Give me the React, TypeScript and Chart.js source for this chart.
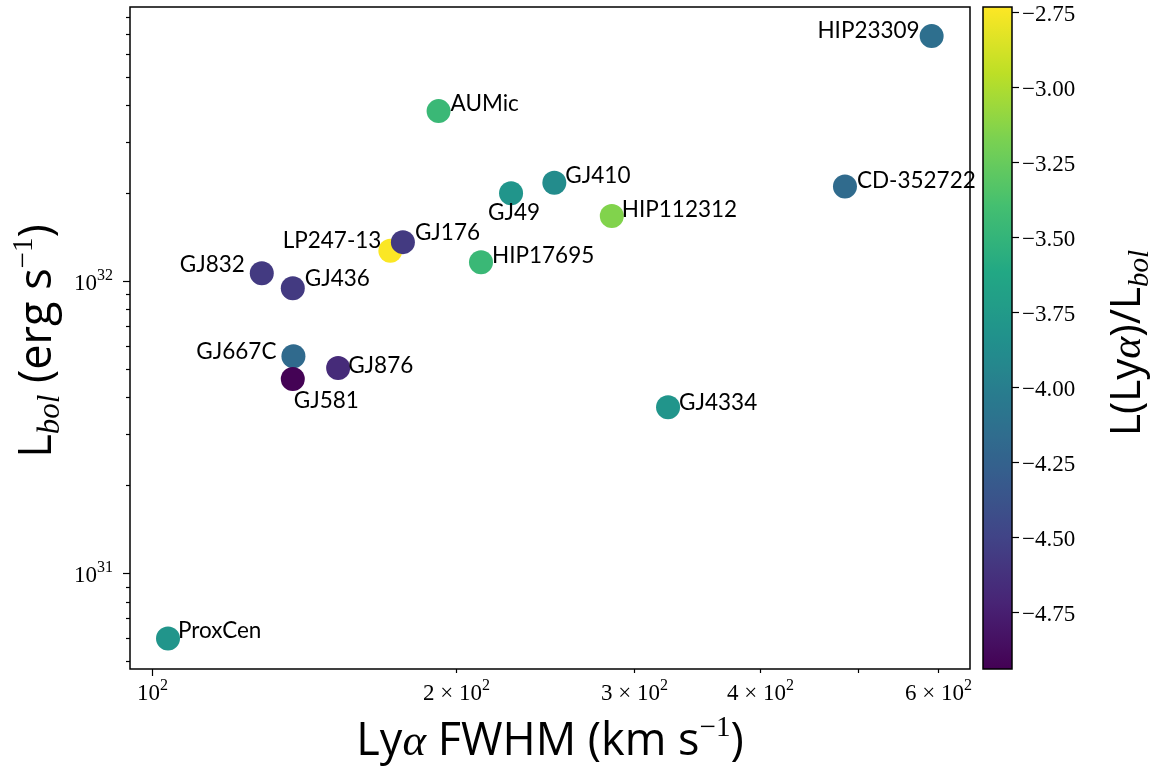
import React, { useEffect, useRef } from "react";
import { Chart, registerables } from "chart.js";

Chart.register(...registerables);

// ---------- data ----------
const starNames = [
  "HIP23309", "AUMic", "GJ410", "GJ49", "CD-352722", "HIP112312", "LP247-13", "GJ176",
  "HIP17695", "GJ832", "GJ436", "GJ667C", "GJ581", "GJ876", "GJ4334", "ProxCen",
];
const fwhm = [591, 192, 250, 226.5, 485, 285, 172, 177, 211.5, 128.3, 137.7, 137.9, 137.7, 152.7, 324, 103.6];
const lbol = [
  6.9e32, 3.82e32, 2.17e32, 2.0e32, 2.11e32, 1.67e32, 1.27e32, 1.36e32,
  1.16e32, 1.065e32, 9.46e31, 5.53e31, 4.62e31, 5.04e31, 3.7e31, 5.98e30,
];
const lyaRatio = [
  -4.14, -3.46, -3.88, -3.8, -4.17, -3.15, -2.74, -4.57,
  -3.46, -4.57, -4.57, -4.18, -4.93, -4.67, -3.8, -3.8,
];

const xTickValues = [100, 200, 300, 400, 500, 600];
const xTickLabels = ["10^2", "2 × 10^2", "3 × 10^2", "4 × 10^2", "", "6 × 10^2"];
const xMajorValues = [100];
const yMajorValues = [1e31, 1e32];
const yMajorLabels = ["10^31", "10^32"];
const yMinorValues = [
  5e30, 6e30, 7e30, 8e30, 9e30,
  2e31, 3e31, 4e31, 5e31, 6e31, 7e31, 8e31, 9e31,
  2e32, 3e32, 4e32, 5e32, 6e32, 7e32, 8e32,
];
const cTickValues = [-4.75, -4.5, -4.25, -4.0, -3.75, -3.5, -3.25, -3.0, -2.75];
const cTickLabels = ["−4.75", "−4.50", "−4.25", "−4.00", "−3.75", "−3.50", "−3.25", "−3.00", "−2.75"];

const xMin = 95;
const xMax = 645;
const yMin = 4.7e30;
const yMax = 8.68e32;
const cMin = -4.94;
const cMax = -2.733;

// label placement: [dx, dy(center), align]
const labelPlacement: [number, number, CanvasTextAlign][] = [
  [-12, -5, "right"], [12, -7, "left"], [11, -7, "left"], [3, 20, "center"],
  [12, -6, "left"], [10, -6, "left"], [-9, -10, "right"], [12, -9, "left"],
  [11, -7, "left"], [-17, -8, "right"], [12, -9, "left"], [-17, -5, "right"],
  [1, 22, "left"], [10, -2, "left"], [11, -5, "left"], [10, -8, "left"],
];

// ---------- helpers ----------
const viridisStops = [
  "#440154", "#482475", "#414487", "#355f8d", "#2a788e", "#21918c",
  "#22a884", "#44bf70", "#7ad151", "#bddf26", "#fde725",
];
function hexToRgb(h: string) {
  return [parseInt(h.slice(1, 3), 16), parseInt(h.slice(3, 5), 16), parseInt(h.slice(5, 7), 16)];
}
function viridis(t: number) {
  const tt = Math.max(0, Math.min(1, t)) * (viridisStops.length - 1);
  const i = Math.min(viridisStops.length - 2, Math.floor(tt));
  const f = tt - i;
  const a = hexToRgb(viridisStops[i]);
  const b = hexToRgb(viridisStops[i + 1]);
  const c = a.map((v, k) => Math.round(v + (b[k] - v) * f));
  return `rgb(${c[0]},${c[1]},${c[2]})`;
}

type Seg = { t: string; f: string; dy?: number };
function segWidth(ctx: CanvasRenderingContext2D, segs: Seg[]) {
  let w = 0;
  for (const s of segs) {
    ctx.font = s.f;
    w += ctx.measureText(s.t).width;
  }
  return w;
}
function drawSegs(ctx: CanvasRenderingContext2D, segs: Seg[], x: number, y: number, align: CanvasTextAlign) {
  const w = segWidth(ctx, segs);
  let cx = align === "left" ? x : align === "right" ? x - w : x - w / 2;
  ctx.textAlign = "left";
  ctx.textBaseline = "alphabetic";
  for (const s of segs) {
    ctx.font = s.f;
    ctx.fillText(s.t, cx, y + (s.dy || 0));
    cx += ctx.measureText(s.t).width;
  }
}
const SERIF = '"Liberation Serif", "DejaVu Serif", serif';
const SANS = 'Lato, "DejaVu Sans", sans-serif';
const TSANS = '"Open Sans", Lato, sans-serif';
function mathLabel(label: string, size: number): Seg[] {
  const parts = label.split("^");
  const segs: Seg[] = [{ t: parts[0], f: `${size}px ${SERIF}` }];
  if (parts[1]) segs.push({ t: parts[1], f: `${Math.round(size * 0.7)}px ${SERIF}`, dy: -size * 0.42 });
  return segs;
}

const decorPlugin = {
  id: "decor",
  afterDatasetsDraw(chart: any) {
    const ctx: CanvasRenderingContext2D = chart.ctx;
    const xs = chart.scales.x;
    const ys = chart.scales.y;
    ctx.save();
    ctx.fillStyle = "#000";
    starNames.forEach((name, i) => {
      const px = xs.getPixelForValue(fwhm[i]);
      const py = ys.getPixelForValue(lbol[i]);
      const [dx, dy, align] = labelPlacement[i];
      ctx.font = `22.5px ${SANS}`;
      ctx.textAlign = align;
      ctx.textBaseline = "middle";
      ctx.fillText(name, px + dx, py + dy);
    });
    ctx.restore();
  },
  afterDraw(chart: any) {
    const ctx: CanvasRenderingContext2D = chart.ctx;
    const a = chart.chartArea;
    const xs = chart.scales.x;
    const ys = chart.scales.y;
    ctx.save();
    ctx.strokeStyle = "#000";
    ctx.fillStyle = "#000";
    // frame
    ctx.lineWidth = 1.5;
    ctx.strokeRect(a.left, a.top, a.right - a.left, a.bottom - a.top);
    ctx.lineWidth = 1.2;
    // x ticks
    xTickValues.forEach((v, i) => {
      const px = Math.round(xs.getPixelForValue(v)) + 0.5;
      const len = xMajorValues.includes(v) ? 7 : 4;
      ctx.beginPath();
      ctx.moveTo(px, a.bottom);
      ctx.lineTo(px, a.bottom + len);
      ctx.stroke();
      if (xTickLabels[i]) drawSegs(ctx, mathLabel(xTickLabels[i], 23), px, a.bottom + 31, "center");
    });
    // y ticks
    yMinorValues.forEach((v) => {
      const py = Math.round(ys.getPixelForValue(v)) + 0.5;
      ctx.beginPath();
      ctx.moveTo(a.left, py);
      ctx.lineTo(a.left - 4, py);
      ctx.stroke();
    });
    yMajorValues.forEach((v, i) => {
      const py = Math.round(ys.getPixelForValue(v)) + 0.5;
      ctx.beginPath();
      ctx.moveTo(a.left, py);
      ctx.lineTo(a.left - 7, py);
      ctx.stroke();
      drawSegs(ctx, mathLabel(yMajorLabels[i], 23), a.left - 17, py + 8, "right");
    });

    // colorbar
    const cs = chart.scales.c;
    const bx0 = 983;
    const bx1 = 1012;
    const top = cs.getPixelForValue(cMax);
    const bot = cs.getPixelForValue(cMin);
    const grad = ctx.createLinearGradient(0, bot, 0, top);
    for (let k = 0; k <= 40; k++) grad.addColorStop(k / 40, viridis(k / 40));
    ctx.fillStyle = grad;
    ctx.fillRect(bx0, top, bx1 - bx0, bot - top);
    ctx.lineWidth = 1.5;
    ctx.strokeRect(bx0, top, bx1 - bx0, bot - top);
    ctx.lineWidth = 1.2;
    ctx.fillStyle = "#000";
    cTickValues.forEach((v, i) => {
      const py = Math.round(cs.getPixelForValue(v)) + 0.5;
      ctx.beginPath();
      ctx.moveTo(bx1, py);
      ctx.lineTo(bx1 + 7, py);
      ctx.stroke();
      ctx.font = `23px ${SERIF}`;
      ctx.textAlign = "left";
      ctx.textBaseline = "alphabetic";
      ctx.fillText(cTickLabels[i], bx1 + 10, py + 8);
    });

    // axis titles
    const big = 45;
    const xTitle: Seg[] = [
      { t: "Ly", f: `${big}px ${TSANS}` },
      { t: "α", f: `italic ${big}px ${SERIF}` },
      { t: " FWHM (km s", f: `${big}px ${TSANS}` },
      { t: "−1", f: `29px ${SERIF}`, dy: -19 },
      { t: ")", f: `${big}px ${TSANS}` },
    ];
    drawSegs(ctx, xTitle, (a.left + a.right) / 2, 755, "center");

    const yTitle: Seg[] = [
      { t: "L", f: `${big}px ${TSANS}` },
      { t: "bol", f: `italic 31px ${SERIF}`, dy: 8 },
      { t: " (erg s", f: `${big}px ${TSANS}` },
      { t: "−1", f: `29px ${SERIF}`, dy: -19 },
      { t: ")", f: `${big}px ${TSANS}` },
    ];
    ctx.save();
    ctx.translate(51, 341);
    ctx.rotate(-Math.PI / 2);
    drawSegs(ctx, yTitle, 0, 0, "center");
    ctx.restore();

    const cTitle: Seg[] = [
      { t: "L(Ly", f: `42px ${TSANS}` },
      { t: "α", f: `italic 42px ${SERIF}` },
      { t: ")/L", f: `42px ${TSANS}` },
      { t: "bol", f: `italic 29px ${SERIF}`, dy: 8 },
    ];
    ctx.save();
    ctx.translate(1140, 343);
    ctx.rotate(-Math.PI / 2);
    drawSegs(ctx, cTitle, 0, 0, "center");
    ctx.restore();

    ctx.restore();
  },
};

export default function App() {
  const ref = useRef<HTMLCanvasElement | null>(null);
  useEffect(() => {
    if (!ref.current) return;
    const chart = new Chart(ref.current, {
      type: "scatter",
      data: {
        datasets: [
          {
            data: fwhm.map((x, i) => ({ x, y: lbol[i] })),
            backgroundColor: lyaRatio.map((v) => viridis((v - cMin) / (cMax - cMin))),
            pointRadius: 12,
            pointHoverRadius: 12,
            borderWidth: 0,
          },
        ],
      },
      options: {
        responsive: false,
        animation: false,
        events: [],
        layout: { autoPadding: false, padding: { left: 130, right: 189, top: 7, bottom: 98 } },
        plugins: { legend: { display: false }, tooltip: { enabled: false } },
        scales: {
          x: { type: "logarithmic", min: xMin, max: xMax, display: false },
          y: { type: "logarithmic", min: yMin, max: yMax, display: false },
          c: { type: "linear", axis: "y", position: "right", min: cMin, max: cMax, display: false },
        },
      } as any,
      plugins: [decorPlugin],
    });
    return () => chart.destroy();
  }, []);
  return (
    <div style={{ position: "absolute", left: 0, top: 0, width: 1159, height: 767, background: "#fff" }}>
      <canvas ref={ref} width={1159} height={767} />
    </div>
  );
}
